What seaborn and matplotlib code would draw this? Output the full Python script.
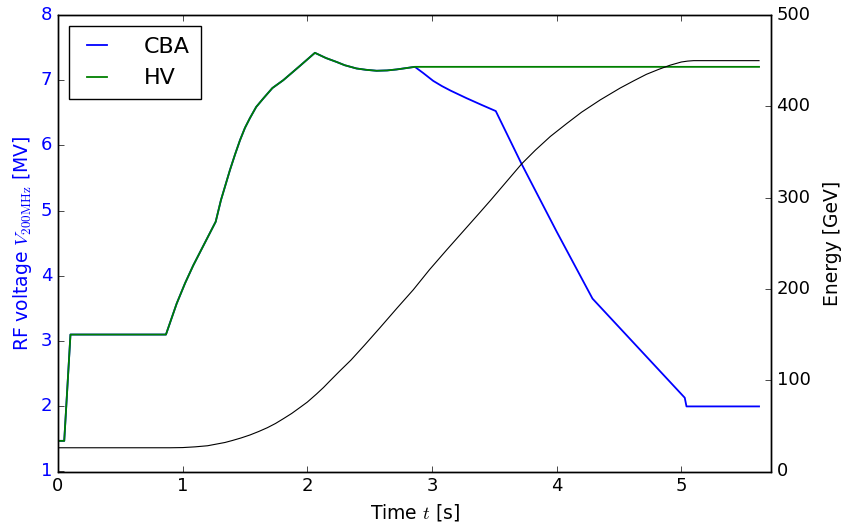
import pandas as pd
import seaborn as sns
import matplotlib.pyplot as plt

# HV: voltage program (s, MV)
t_hv = [0.0, 0.05, 0.10, 0.866, 0.952, 1.02, 1.085, 1.179, 1.265, 1.307, 1.379, 1.42,
        1.46, 1.50, 1.54, 1.59, 1.647, 1.72, 1.807, 1.941, 2.061, 2.15, 2.235, 2.30,
        2.395, 2.47, 2.556, 2.64, 2.716, 2.79, 2.863, 5.624]
v_hv = [1.47, 1.47, 3.10, 3.10, 3.575, 3.89, 4.16, 4.51, 4.83, 5.16, 5.62, 5.86,
        6.08, 6.27, 6.42, 6.59, 6.72, 6.88, 7.00, 7.22, 7.42, 7.34, 7.28, 7.23,
        7.18, 7.16, 7.145, 7.15, 7.165, 7.185, 7.205, 7.205]

# CBA: same as HV until ~2.86 s, then ramps down
t_cba = t_hv[:-1] + [2.93, 3.01, 3.08, 3.15, 3.277, 3.40, 3.512, 3.718, 4.0, 4.288,
                     5.028, 5.042, 5.624]
v_cba = v_hv[:-1] + [7.11, 6.99, 6.91, 6.84, 6.725, 6.62, 6.527, 5.72, 4.68, 3.651,
                     2.131, 1.998, 1.998]

# beam energy (s, GeV)
t_e = [0.0, 0.50, 0.90, 1.00, 1.10, 1.20, 1.27, 1.34, 1.40, 1.47, 1.54, 1.61, 1.68,
       1.745, 1.81, 1.875, 1.94, 2.00, 2.075, 2.13, 2.18, 2.26, 2.35, 2.46, 2.58,
       2.72, 2.85, 2.98, 3.12, 3.25, 3.38, 3.47, 3.57, 3.72, 3.83, 3.95, 4.08,
       4.20, 4.35, 4.51, 4.62, 4.72, 4.82, 4.91, 5.00, 5.05, 5.10, 5.624]
e_gev = [26, 26, 26, 26.2, 27, 28.2, 30, 31.8, 34, 36.8, 40, 43.8, 48,
         52.6, 58, 63.6, 70, 76, 85, 92, 99, 110, 122, 138.5, 157,
         179, 199, 221, 243, 263, 283, 297, 313, 337, 352, 367, 381,
         393.5, 407, 420, 428, 435, 440.5, 445, 448.5, 449.5, 450, 450]

hv = pd.DataFrame({'t': t_hv, 'V': v_hv})
cba = pd.DataFrame({'t': t_cba, 'V': v_cba})
energia = pd.DataFrame({'t': t_e, 'E': e_gev})

plt.style.use('classic')
plt.rcParams['font.size'] = 13
plt.rcParams['xtick.labelsize'] = 13
plt.rcParams['ytick.labelsize'] = 13
plt.rcParams['axes.labelsize'] = 13.5

fig = plt.figure(figsize=(8.45, 5.27), dpi=100, facecolor='white')
ax1 = fig.add_axes([58 / 845, 1 - 471.5 / 527, (771 - 58) / 845, (471.5 - 15) / 527])
ax2 = ax1.twinx()

sns.lineplot(data=cba, x='t', y='V', ax=ax1, color='b', lw=1.3, label='CBA',
             sort=False, estimator=None)
sns.lineplot(data=hv, x='t', y='V', ax=ax1, color='g', lw=1.3, label='HV',
             sort=False, estimator=None)
sns.lineplot(data=energia, x='t', y='E', ax=ax2, color='k', lw=0.8, legend=False,
             sort=False, estimator=None)

ax1.set_xlim(0, 5.72)
ax1.set_ylim(1, 8)
ax2.set_ylim(0, 500)
ax1.set_xticks(range(0, 6))
ax1.set_yticks(range(1, 9))
ax2.set_yticks(range(0, 501, 100))

ax1.set_xlabel('Time $t$ [s]')
ax1.set_ylabel(r'RF voltage $V_{200\mathrm{MHz}}$ [MV]', color='b')
ax1.tick_params(axis='y', labelcolor='b')
ax2.set_xlabel('')
ax2.set_ylabel('Energy [GeV]', labelpad=9)

ax1.legend(loc='upper left', fontsize=16, handlelength=1.5, handletextpad=1.35,
           borderpad=0.5, labelspacing=0.5, fancybox=False, framealpha=1,
           edgecolor='k')

plt.savefig('out.png', dpi=100, facecolor='white')
plt.close()
